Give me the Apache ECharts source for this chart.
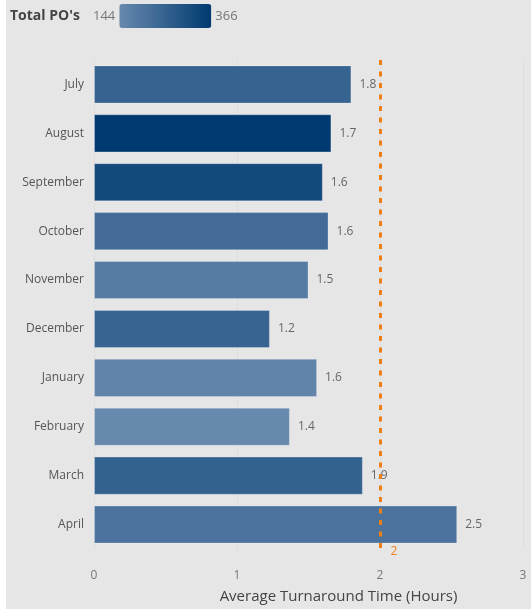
<!DOCTYPE html>
<html lang="en">
  <head>
    <meta charset="UTF-8" />
    <title>Average Turnaround Time</title>
    <script src="https://cdn.jsdelivr.net/npm/echarts@6/dist/echarts.min.js"></script>
    <style>
      body { margin: 0; background: #ffffff; }
      #main { position: absolute; left: 6px; top: 0; width: 525px; height: 609px; background: #e6e6e6; }
    </style>
  </head>
  <body>
    <div id="main"></div>
    <script type="text/javascript">
      // months, top to bottom
      const months = ["July", "August", "September", "October", "November", "December", "January", "February", "March", "April"];
      // average turnaround time (hours)
      const turnaround = [1.8, 1.66, 1.6, 1.64, 1.5, 1.23, 1.56, 1.37, 1.88, 2.54];
      // total PO's (drives the colour)
      const totalPOs = [250, 366, 325, 225, 180, 248, 160, 144, 255, 205];
      const targetHours = 2;
      const xTicks = [0, 1, 2, 3];

      const font = "'Open Sans', 'Noto Sans', sans-serif";
      let myChart = echarts.init(document.getElementById("main"));

      let options = {
        backgroundColor: "#e6e6e6",
        textStyle: { fontFamily: font },
        title: {
          text: "Total PO's",
          left: 4,
          top: 9,
          padding: 0,
          textStyle: { fontSize: 14, fontWeight: "bold", color: "#444", fontFamily: font },
        },
        visualMap: {
          type: "continuous",
          orient: "horizontal",
          dimension: 2,
          min: Math.min(...totalPOs),
          max: Math.max(...totalPOs),
          calculable: false,
          left: 72,
          top: -11,
          itemWidth: 24,
          itemHeight: 92,
          text: [String(Math.max(...totalPOs)), String(Math.min(...totalPOs))],
          textGap: 4,
          textStyle: { color: "#777", fontSize: 13, fontFamily: font },
          inRange: { color: ["#6889ae", "#003a70"] },
        },
        grid: { left: 88, right: 8, top: 60, bottom: 57 },
        xAxis: {
          type: "value",
          min: xTicks[0],
          max: xTicks[xTicks.length - 1],
          interval: 1,
          name: "Average Turnaround Time (Hours)",
          nameLocation: "middle",
          nameGap: 40,
          nameTextStyle: { color: "#444", fontSize: 15, padding: [0, 0, 0, 60], fontFamily: font },
          axisLine: { show: false },
          axisTick: { show: false },
          axisLabel: { color: "#777", fontSize: 12, margin: 21 },
          splitLine: { show: true, lineStyle: { color: "#d6d6d6", type: "dotted" } },
        },
        yAxis: {
          type: "category",
          data: months,
          inverse: true,
          axisLine: { show: false },
          axisTick: { show: false },
          axisLabel: { color: "#555", fontSize: 12, margin: 10 },
        },
        series: [
          {
            type: "bar",
            barCategoryGap: "22%",
            data: months.map((m, i) => [turnaround[i], m, totalPOs[i]]),
            encode: { x: 0, y: 1 },
            itemStyle: { borderColor: "rgba(255,255,255,0.25)", borderWidth: 1 },
            label: {
              show: true,
              position: "right",
              distance: 8,
              color: "#666",
              fontSize: 12,
              formatter: (p) => p.value[0].toFixed(1),
            },
            markLine: {
              silent: true,
              symbol: "none",
              lineStyle: { color: "#f07f13", type: [5, 6.5], width: 3 },
              label: {
                show: true,
                position: "end",
                color: "#f07f13",
                fontSize: 12,
                offset: [14, -8],
                formatter: String(targetHours),
              },
              data: [{ xAxis: targetHours }],
            },
          },
        ],
      };
      myChart.setOption(options);
    </script>
  </body>
</html>
